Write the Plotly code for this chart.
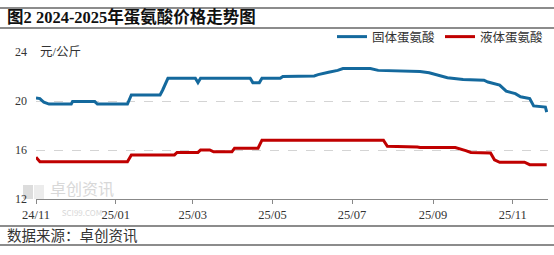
import plotly.graph_objects as go

# ---- data ----
solid_dates = ["2024-11-01", "2024-11-04", "2024-11-07", "2024-11-11", "2024-11-28", "2024-11-29",
               "2024-12-16", "2024-12-18", "2025-01-10", "2025-01-13", "2025-02-04", "2025-02-06",
               "2025-02-10", "2025-03-03", "2025-03-05", "2025-03-07", "2025-04-14", "2025-04-16",
               "2025-04-21", "2025-04-23", "2025-05-07", "2025-05-09", "2025-06-02", "2025-06-05",
               "2025-06-13", "2025-06-20", "2025-06-24", "2025-07-15", "2025-07-21", "2025-08-20",
               "2025-08-22", "2025-08-29", "2025-09-05", "2025-09-12", "2025-09-24", "2025-10-10",
               "2025-10-13", "2025-10-22", "2025-10-27", "2025-11-03", "2025-11-07", "2025-11-14",
               "2025-11-17", "2025-11-26", "2025-11-27"]
solid_values = [20.25, 20.2, 19.9, 19.75, 19.75, 19.95,
                19.95, 19.75, 19.75, 20.5, 20.5, 20.9,
                21.85, 21.85, 21.5, 21.85, 21.85, 21.5,
                21.5, 21.85, 21.85, 22.0, 22.05, 22.15,
                22.35, 22.5, 22.65, 22.65, 22.5, 22.45,
                22.4, 22.3, 22.1, 21.9, 21.75, 21.7,
                21.55, 21.3, 20.8, 20.6, 20.35, 20.2,
                19.6, 19.5, 19.1]

liquid_dates = ["2024-11-01", "2024-11-04", "2025-01-10", "2025-01-13", "2025-02-15", "2025-02-17",
                "2025-03-05", "2025-03-07", "2025-03-14", "2025-03-17", "2025-03-31", "2025-04-02",
                "2025-04-20", "2025-04-23", "2025-07-25", "2025-07-28", "2025-08-20", "2025-08-22",
                "2025-09-18", "2025-09-22", "2025-09-26", "2025-09-30", "2025-10-15", "2025-10-18",
                "2025-10-22", "2025-11-10", "2025-11-14", "2025-11-27"]
liquid_values = [15.4, 15.05, 15.05, 15.6, 15.6, 15.8,
                 15.8, 16.0, 16.0, 15.85, 15.85, 16.15,
                 16.15, 16.8, 16.8, 16.3, 16.25, 16.2,
                 16.2, 16.1, 15.95, 15.8, 15.75, 15.2,
                 15.0, 15.0, 14.8, 14.8]

series_names = ["固体蛋氨酸", "液体蛋氨酸"]
y_ticks = [12, 16, 20, 24]
title_text = "图2 2024-2025年蛋氨酸价格走势图"
unit_text = "元/公斤"
source_text = "数据来源：卓创资讯"
watermark_cn = "卓创资讯"
watermark_en = "SCI99.COM"

FONT = "Liberation Serif, Noto Sans CJK SC, serif"
BLUE = "#14699d"
RED = "#c00000"

fig = go.Figure()
fig.add_trace(go.Scatter(x=solid_dates, y=solid_values, mode="lines", name=series_names[0],
                         line=dict(color=BLUE, width=3)))
fig.add_trace(go.Scatter(x=liquid_dates, y=liquid_values, mode="lines", name=series_names[1],
                         line=dict(color=RED, width=3)))

fig.update_layout(
    width=554, height=255,
    margin=dict(l=36, r=6, t=52, b=56),
    paper_bgcolor="white", plot_bgcolor="white",
    font=dict(family=FONT, size=12, color="#333333"),
    showlegend=True,
    legend=dict(orientation="h", x=1.0, xanchor="right", y=1.0, yanchor="bottom",
                font=dict(size=12.5, color="#333333", family=FONT),
                itemwidth=30, tracegroupgap=0, bgcolor="rgba(0,0,0,0)"),
    xaxis=dict(type="date", range=["2024-11-01", "2025-11-28"],
               tick0="2024-11-01", dtick="M2", tickformat="%y/%m",
               showgrid=False, showline=True, linecolor="#888888", linewidth=1,
               ticks="outside", ticklen=4, tickcolor="#888888",
               tickfont=dict(size=12.5, color="#333333", family=FONT), zeroline=False),
    yaxis=dict(range=[12, 24], tickvals=y_ticks, showgrid=True, gridcolor="#d4d4d4",
               griddash="dash", gridwidth=1, zeroline=False, showline=False,
               ticks="", ticklabelstandoff=8,
               tickfont=dict(size=12, color="#333333", family=FONT)),
)

# title & frame lines
fig.add_annotation(text="<b>" + title_text + "</b>", xref="paper", yref="paper",
                   x=-31/512, y=1 + (52-17)/147, xanchor="left", yanchor="middle",
                   showarrow=False, font=dict(size=16.5, color="#111111", family=FONT))
for yy, w in [(8, 1.5), (28, 1.5), (226, 1.5), (245, 1.5)]:
    fig.add_shape(type="line", xref="paper", yref="paper",
                  x0=-36/512, x1=1 + 6/512, y0=(199-yy)/147, y1=(199-yy)/147,
                  line=dict(color="#666666", width=w))

fig.add_annotation(text=unit_text, xref="paper", yref="y", x=2/512, y=24,
                   xanchor="left", yanchor="middle", showarrow=False, bgcolor="white",
                   font=dict(size=12.5, color="#333333", family=FONT))
fig.add_annotation(text=source_text, xref="paper", yref="paper",
                   x=-31/512, y=(199-236)/147, xanchor="left", yanchor="middle",
                   showarrow=False, font=dict(size=14.5, color="#333333", family=FONT))

# watermark
fig.add_shape(type="rect", xref="paper", yref="paper", x0=-13/512, x1=-3/512,
              y0=(199-199)/147, y1=(199-185)/147, fillcolor="#dcdcdc", line=dict(width=0),
              layer="below")
fig.add_shape(type="rect", xref="paper", yref="paper", x0=-2/512, x1=8/512,
              y0=(199-199)/147, y1=(199-185)/147, fillcolor="#ececec", line=dict(width=0),
              layer="below")
fig.add_annotation(text=watermark_cn + "<br><span style='font-size:8px'>" + watermark_en + "</span>",
                   xref="paper", yref="paper", x=12/512, y=(199-197)/147,
                   xanchor="left", yanchor="middle", showarrow=False, align="center",
                   font=dict(size=16, color="#d8d8d8", family="Noto Sans CJK SC"))

fig.write_html("out.html")
